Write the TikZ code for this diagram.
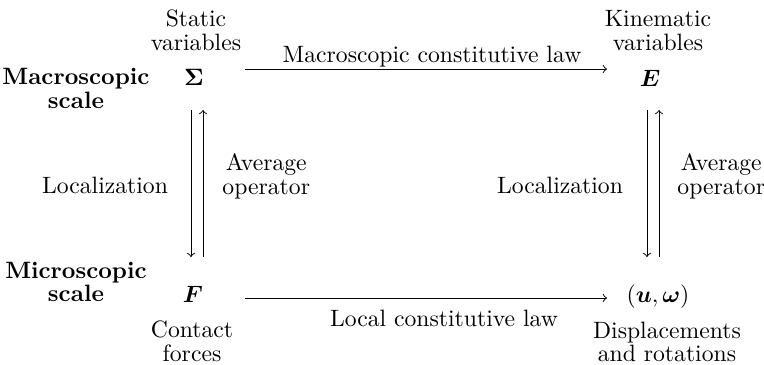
\documentclass[tikz,border=0pt]{standalone}
\usepackage{amsmath}
\usepackage{bm}
\begin{document}
\begin{tikzpicture}[x=0.4227pt,y=-0.4227pt,
  lbl/.style={inner sep=0pt,align=center,font=\fontsize{10}{10}\selectfont},
  one/.style={inner sep=0pt,anchor=base},
  var/.style={inner sep=0pt,anchor=base},
  arr/.style={->,line width=0.4pt}]
\useasboundingbox (0,0) rectangle (764,364);
% variables
\node[var] (S) at (194,85) {$\bm{\Sigma}$};
\node[var] (E) at (650,86) {$\bm{E}$};
\node[var] (F) at (193,302) {$\bm{F}$};
\node[var] (U) at (658,302) {$(\bm{u},\bm{\omega})$};
% side labels
\node[lbl,font=\fontsize{10}{10}\selectfont\bfseries] (mac) at (76,88.3) {Macroscopic\\scale};
\node[lbl,font=\fontsize{10}{10}\selectfont\bfseries] (mic) at (76,281.8) {Microscopic\\scale};
\node[lbl] (sv) at (196,30.3) {Static\\variables};
\node[lbl] (kv) at (658,30.3) {Kinematic\\variables};
\node[lbl] (cf) at (192,341) {Contact\\forces};
\node[lbl] (dr) at (667,342) {Displacements\\and rotations};
% horizontal arrows
\draw[arr] ([shift={(51,-16)}]S.base) -- ([shift={(-43,-17)}]E.base);
\node[one] (mcl) at (432,62) {Macroscopic constitutive law};
\draw[arr] ([shift={(52,-4)}]F.base) -- ([shift={(-51,-4)}]U.base);
\node[one] (lcl) at (444,326) {Local constitutive law};
% vertical arrows left
\draw[arr] ([shift={(-3,25)}]S.base) -- ([shift={(-2,-45)}]F.base);
\draw[arr] ([shift={(10,-45)}]F.base) -- ([shift={(9,25)}]S.base);
% vertical arrows right
\draw[arr] ([shift={(-3,24)}]E.base) -- ([shift={(-11,-45)}]U.base);
\draw[arr] ([shift={(1,-45)}]U.base) -- ([shift={(9,24)}]E.base);
% arrow labels
\node[one] (locl) at (105,193) {Localization};
\node[one] (locr) at (560,193) {Localization};
\node[lbl,anchor=west] (avl) at (222,176) {Average\\operator};
\node[lbl,anchor=west] (avr) at (677,176) {Average\\operator};
\end{tikzpicture}
\end{document}
